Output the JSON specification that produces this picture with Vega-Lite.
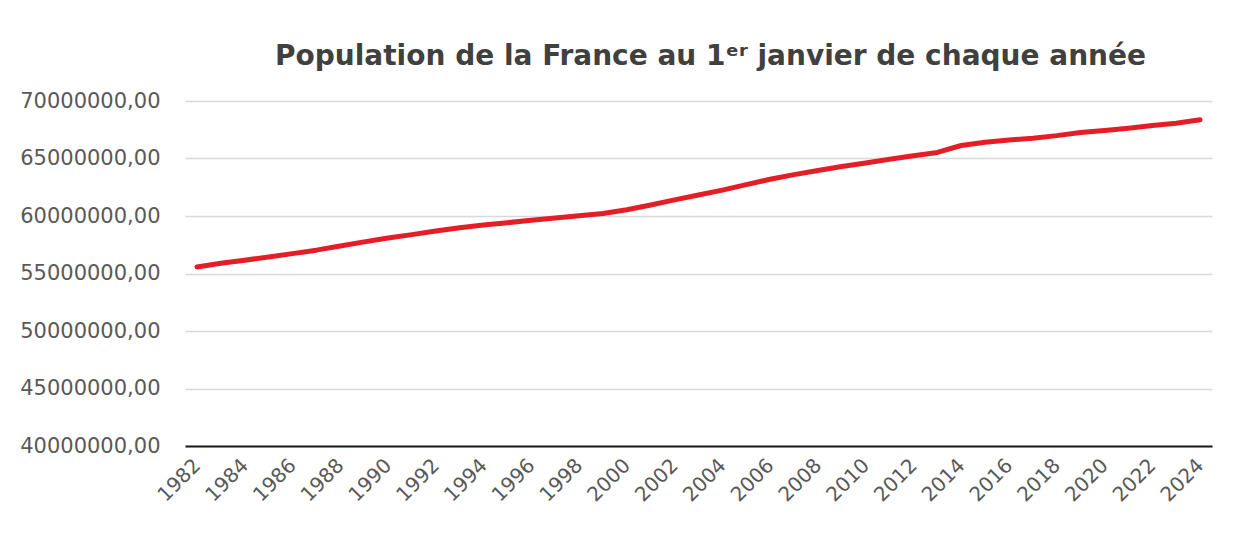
{
  "$schema": "https://vega.github.io/schema/vega-lite/v6.json",
  "autosize": {"type": "none"},
  "width": 1027,
  "height": 345,
  "padding": {"left": 185, "top": 101, "right": 31, "bottom": 88},
  "background": "white",
  "title": {
    "text": "Population de la France au 1ᵉʳ janvier de chaque année",
    "anchor": "middle",
    "dx": 12,
    "offset": 19,
    "font": "DejaVu Sans",
    "fontSize": 28,
    "fontWeight": "bold",
    "color": "#404040"
  },
  "data": {
    "values": [
      {"year": 1982, "pop": 55570000},
      {"year": 1983, "pop": 55890000},
      {"year": 1984, "pop": 56160000},
      {"year": 1985, "pop": 56440000},
      {"year": 1986, "pop": 56730000},
      {"year": 1987, "pop": 57030000},
      {"year": 1988, "pop": 57390000},
      {"year": 1989, "pop": 57750000},
      {"year": 1990, "pop": 58080000},
      {"year": 1991, "pop": 58380000},
      {"year": 1992, "pop": 58690000},
      {"year": 1993, "pop": 58980000},
      {"year": 1994, "pop": 59220000},
      {"year": 1995, "pop": 59420000},
      {"year": 1996, "pop": 59630000},
      {"year": 1997, "pop": 59830000},
      {"year": 1998, "pop": 60030000},
      {"year": 1999, "pop": 60210000},
      {"year": 2000, "pop": 60550000},
      {"year": 2001, "pop": 60960000},
      {"year": 2002, "pop": 61400000},
      {"year": 2003, "pop": 61830000},
      {"year": 2004, "pop": 62250000},
      {"year": 2005, "pop": 62730000},
      {"year": 2006, "pop": 63190000},
      {"year": 2007, "pop": 63600000},
      {"year": 2008, "pop": 63960000},
      {"year": 2009, "pop": 64300000},
      {"year": 2010, "pop": 64610000},
      {"year": 2011, "pop": 64930000},
      {"year": 2012, "pop": 65240000},
      {"year": 2013, "pop": 65530000},
      {"year": 2014, "pop": 66130000},
      {"year": 2015, "pop": 66420000},
      {"year": 2016, "pop": 66600000},
      {"year": 2017, "pop": 66770000},
      {"year": 2018, "pop": 66990000},
      {"year": 2019, "pop": 67260000},
      {"year": 2020, "pop": 67440000},
      {"year": 2021, "pop": 67640000},
      {"year": 2022, "pop": 67870000},
      {"year": 2023, "pop": 68070000},
      {"year": 2024, "pop": 68370000}
    ]
  },
  "mark": {"type": "line", "color": "#E41E26", "strokeWidth": 5, "strokeCap": "round", "strokeJoin": "round"},
  "encoding": {
    "x": {
      "field": "year",
      "type": "ordinal",
      "scale": {"type": "point", "padding": 0.5},
      "axis": {
        "title": null,
        "values": [1982,1984,1986,1988,1990,1992,1994,1996,1998,2000,2002,2004,2006,2008,2010,2012,2014,2016,2018,2020,2022,2024],
        "labelAngle": -45,
        "labelAlign": "right",
        "labelBaseline": "middle",
        "labelPadding": 16,
        "labelFont": "DejaVu Sans",
        "labelFontSize": 20,
        "labelColor": "#595959",
        "ticks": false,
        "grid": false,
        "domain": true,
        "domainColor": "#1a1a1a",
        "domainWidth": 2
      }
    },
    "y": {
      "field": "pop",
      "type": "quantitative",
      "scale": {"domain": [40000000, 70000000], "nice": false, "zero": false},
      "axis": {
        "title": null,
        "values": [40000000, 45000000, 50000000, 55000000, 60000000, 65000000, 70000000],
        "labelExpr": "replace(format(datum.value, '.2f'), '.', ',')",
        "labelFont": "DejaVu Sans",
        "labelFontSize": 21,
        "labelColor": "#595959",
        "labelPadding": 25,
        "ticks": false,
        "domain": false,
        "grid": true,
        "gridColor": "#d9d9d9",
        "gridWidth": 1.5
      }
    }
  },
  "config": {"view": {"stroke": null}}
}
